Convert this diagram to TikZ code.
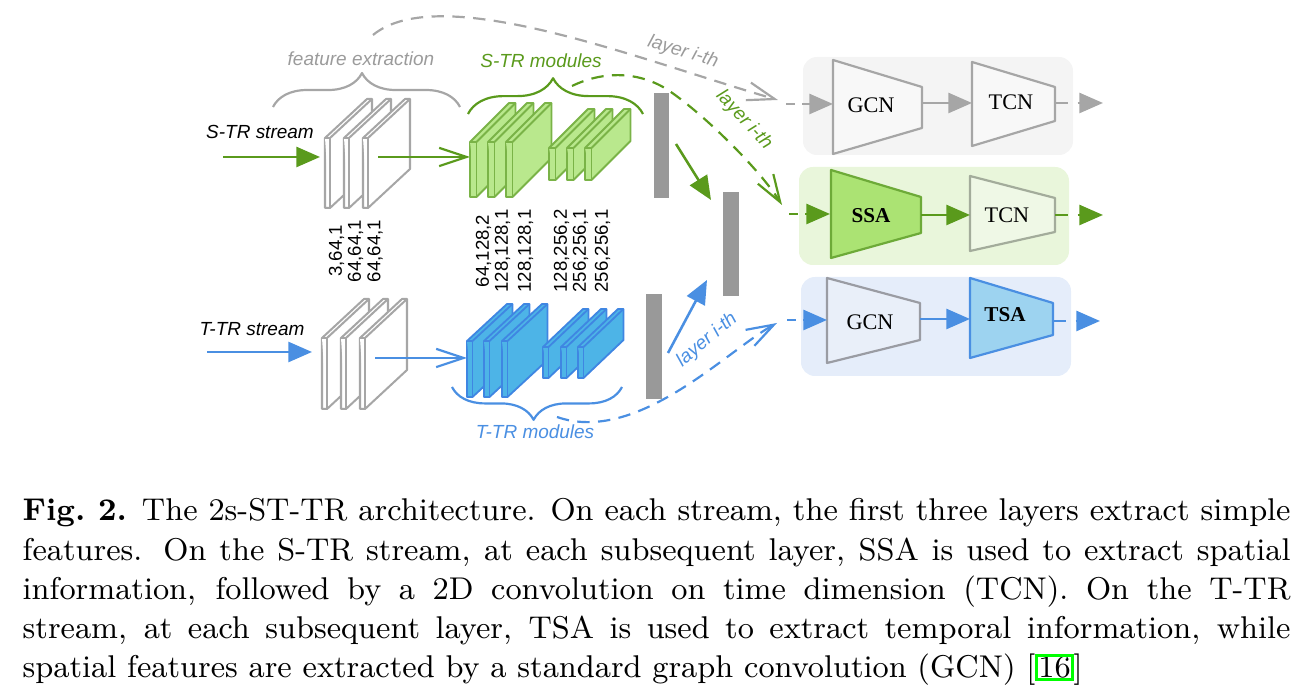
\documentclass[tikz,border=0pt]{standalone}
\usepackage{fontspec}
\newfontfamily\arialf{Liberation Sans}
\newfontfamily\timesf{Liberation Serif}
\usetikzlibrary{arrows.meta,decorations.pathreplacing}
\definecolor{lgrey}{HTML}{A6A6A6}
\definecolor{tgrey}{HTML}{9B9B9B}
\definecolor{bargrey}{HTML}{999999}
\definecolor{dgreen}{HTML}{5A9A1C}
\definecolor{slabgf}{HTML}{B9E88D}
\definecolor{slabgd}{HTML}{7AB347}
\definecolor{dblue}{HTML}{4A8FE2}
\definecolor{slabbf}{HTML}{4DB4E7}
\definecolor{slabbd}{HTML}{3F86E2}
\definecolor{boxgrey}{HTML}{F4F4F4}
\definecolor{boxgreen}{HTML}{E9F6DB}
\definecolor{boxblue}{HTML}{E5EDFA}
\definecolor{ssaf}{HTML}{ABE373}
\definecolor{ssad}{HTML}{6DAA38}
\definecolor{tsaf}{HTML}{9DD3F0}
\definecolor{tsad}{HTML}{4A8FE2}
\definecolor{gcnf}{HTML}{F8F8F8}
\definecolor{tcngf}{HTML}{EFF8E6}
\definecolor{tcngd}{HTML}{A3AC9B}
\definecolor{gcnbf}{HTML}{E9EFF9}
\definecolor{gcnbd}{HTML}{9A9CA3}
\definecolor{linkgreen}{HTML}{00FF00}
% slab: x, ytop, ybot, width, dx, dup, style
\newcommand{\mkslab}[7]{%
  \filldraw[#7] (#1,#2) -- (#1+#5,#2-#6) -- (#1+#4+#5,#2-#6) -- (#1+#4+#5,#3-#6) -- (#1+#4,#3) -- (#1,#3) -- cycle;
  \draw[#7] (#1,#2) -- (#1+#4,#2) -- (#1+#4,#3);
  \draw[#7] (#1+#4,#2) -- (#1+#4+#5,#2-#6);
}
% trapezium: xl, ylt, ylb, xr, yrt, yrb, style
\newcommand{\mktrap}[7]{%
  \filldraw[#7] (#1,#2) -- (#4,#5) -- (#4,#6) -- (#1,#3) -- cycle;
}
\begin{document}
\begin{tikzpicture}[x=0.274pt,y=-0.274pt, line join=round,
  sans/.style={font=\arialf\itshape\fontsize{5.2}{6}\selectfont, inner sep=0pt},
  num/.style={font=\arialf\fontsize{5.1}{4.15}\selectfont, align=center, rotate=90, inner sep=0pt},
  serif/.style={font=\timesf\fontsize{6.1}{7}\selectfont, inner sep=0pt},
  serifb/.style={font=\timesf\bfseries\fontsize{5.8}{7}\selectfont, inner sep=0pt},
  plane/.style={draw=lgrey, fill=white, line width=0.55pt},
  gslab/.style={draw=slabgd, fill=slabgf, line width=0.5pt},
  bslab/.style={draw=slabbd, fill=slabbf, line width=0.5pt},
  bar/.style={fill=bargrey, draw=none, inner sep=0pt, outer sep=0pt},
  tri/.style={-{Triangle[length=6.5pt,width=5.5pt]}, line width=0.7pt},
  barb/.style={-{Straight Barb[length=7.5pt,width=5pt]}, line width=0.6pt},
  ldash/.style={dash pattern=on 3.4pt off 2.3pt},
  sdash/.style={dash pattern=on 2.5pt off 1.9pt},
  brc/.style={decorate, line width=0.6pt},
  panel/.style={draw=none, rounded corners=3.8pt},
]
\useasboundingbox (0,0) rectangle (1295,686);

% ---------- right panels ----------
\fill[boxgrey, panel] (803,57) rectangle (1073,155);
\fill[boxgreen, panel] (799,167) rectangle (1069,265);
\fill[boxblue, panel] (801,277) rectangle (1071,376);

\mktrap{833}{60}{154}{922}{87}{128}{draw=lgrey, fill=gcnf, line width=0.6pt}
\mktrap{972}{62}{146}{1055}{87}{121}{draw=lgrey, fill=gcnf, line width=0.6pt}
\mktrap{831}{170}{258}{921}{197}{233}{draw=ssad, fill=ssaf, line width=0.6pt}
\mktrap{970}{176}{251}{1055}{198}{232}{draw=tcngd, fill=tcngf, line width=0.6pt}
\mktrap{827}{278}{363}{920}{303}{340}{draw=gcnbd, fill=gcnbf, line width=0.6pt}
\mktrap{970}{278}{358}{1053}{303}{335}{draw=tsad, fill=tsaf, line width=0.6pt}

\node[serif] (gcnA) at (871,105) {GCN};
\node[serif] (tcnA) at (1011,102) {TCN};
\node[serifb] (ssa) at (871,216) {SSA};
\node[serif] (tcnB) at (1007,215) {TCN};
\node[serif] (gcnC) at (870,322) {GCN};
\node[serifb] (tsa) at (1005,315) {TSA};

% anchor points of the blocks
\coordinate (gcnAin) at (833,104);  \coordinate (gcnAout) at (922,103);
\coordinate (tcnAin) at (972,103);  \coordinate (tcnAout) at (1055,103);
\coordinate (outA) at (1103,103);   \coordinate (inA) at (786,104);
\coordinate (ssain) at (830,214);   \coordinate (ssaout) at (921,215);
\coordinate (tcnBin) at (970,215);  \coordinate (tcnBout) at (1055,215);
\coordinate (outB) at (1103,215);   \coordinate (inB) at (789,214);
\coordinate (gcnCin) at (827,320);  \coordinate (gcnCout) at (920,319);
\coordinate (tsain) at (970,319);   \coordinate (tsaout) at (1053,321);
\coordinate (outC) at (1100,321);   \coordinate (inC) at (787,320);

\draw[tri, lgrey, sdash] (inA) -- (gcnAin);
\draw[tri, lgrey] (gcnAout) -- (tcnAin);
\draw[tri, lgrey, dash pattern=on 3.6pt off 2.6pt] (tcnAout) -- (outA);
\draw[tri, dgreen, sdash] (inB) -- (ssain);
\draw[tri, dgreen] (ssaout) -- (tcnBin);
\draw[tri, dgreen, dash pattern=on 3.6pt off 2.6pt] (tcnBout) -- (outB);
\draw[tri, dblue, sdash] (inC) -- (gcnCin);
\draw[tri, dblue] (gcnCout) -- (tsain);
\draw[tri, dblue, dash pattern=on 3.6pt off 2.6pt] (tsaout) -- (outC);

% ---------- bars ----------
\node[bar, minimum width=4.11pt, minimum height=28.77pt] (bar1) at (661.5,145.5) {};
\node[bar, minimum width=4.38pt, minimum height=28.5pt] (bar2) at (731,244) {};
\node[bar, minimum width=4.38pt, minimum height=28.77pt] (bar3) at (654,346.5) {};
\coordinate (b1s) at (676,144); \coordinate (b2g) at (711,200);
\coordinate (b3s) at (668,353); \coordinate (b2b) at (707,280);
\draw[tri, dgreen] (b1s) -- (b2g);
\draw[tri, dblue] (b3s) -- (b2b);

% ---------- streams: inputs ----------
\node[sans, text=black] (strs) at (260,132) {S-TR stream};
\node[sans, text=black] (ttrs) at (252,329) {T-TR stream};
\coordinate (sIn0) at (223,157); \coordinate (sIn1) at (320,157);
\coordinate (tIn0) at (207,352); \coordinate (tIn1) at (312,352);
\draw[tri, dgreen] (sIn0) -- (sIn1);
\draw[tri, dblue] (tIn0) -- (tIn1);

% ---------- feature extraction planes ----------
\mkslab{325}{138}{208}{5}{42}{39}{plane}
\mkslab{344}{138}{208}{5}{42}{39}{plane}
\mkslab{363}{138}{208}{5}{42}{39}{plane}
\mkslab{322}{338}{409}{5}{42}{39}{plane}
\mkslab{341}{338}{409}{5}{42}{39}{plane}
\mkslab{360}{338}{409}{5}{42}{39}{plane}

\coordinate (fS) at (378,157); \coordinate (mS) at (470,157);
\coordinate (fT) at (375,358); \coordinate (mT) at (467,358);
\draw[barb, dgreen] (fS) -- (mS);
\draw[barb, dblue] (fT) -- (mT);

% ---------- S-TR modules ----------
\mkslab{470}{142}{197}{6.5}{39}{39}{gslab}
\mkslab{488}{142}{197}{6.5}{39}{39}{gslab}
\mkslab{506}{142}{197}{6.5}{39}{39}{gslab}
\mkslab{549}{148}{180}{6.5}{39}{39}{gslab}
\mkslab{567}{148}{180}{6.5}{39}{39}{gslab}
\mkslab{585}{148}{180}{6.5}{39}{39}{gslab}

% ---------- T-TR modules ----------
\mkslab{467}{341}{397}{5.5}{40}{37}{bslab}
\mkslab{484}{341}{397}{5.5}{40}{37}{bslab}
\mkslab{502}{341}{397}{5.5}{40}{37}{bslab}
\mkslab{543}{347}{378}{5.5}{40}{38}{bslab}
\mkslab{561}{347}{378}{5.5}{40}{38}{bslab}
\mkslab{578}{347}{378}{5.5}{40}{38}{bslab}

% ---------- braces and labels ----------
\draw[brc, lgrey, decoration={brace, amplitude=9.3pt, aspect=0.476}] (273,107) -- (460,107);
\draw[brc, dgreen, decoration={brace, amplitude=9.8pt, aspect=0.486}] (468,114) -- (643,114);
\draw[brc, dblue, decoration={brace, amplitude=9pt, aspect=0.52}] (622,387) -- (452,387);
\node[sans, text=tgrey] (fe) at (361,59) {feature extraction};
\node[sans, text=dgreen] (stm) at (541,61) {S-TR modules};
\node[sans, text=dblue] (ttm) at (535,432) {T-TR modules};

% ---------- channel numbers ----------
\node[num] (n1) at (346,251) {3,64,1\\64,64,1};
\node[num] (n2) at (375,251) {64,64,1};
\node[num] (n3) at (493,251) {64,128,2\\128,128,1};
\node[num] (n4) at (525.5,251) {128,128,1};
\node[num] (n5) at (571,251) {128,256,2\\256,256,1};
\node[num] (n6) at (602.5,251) {256,256,1};

% ---------- layer i-th skip connections ----------
\coordinate (gc0) at (373,35); \coordinate (gc1) at (778,100);
\draw[barb, lgrey, ldash] (gc0) .. controls (440,-20) and (640,60) .. (gc1);
\coordinate (grc0) at (572,86); \coordinate (grc1) at (782,205);
\draw[barb, dgreen, ldash] (grc0) .. controls (605,70) and (640,72) .. (668,90)
      .. controls (705,115) and (760,170) .. (grc1);
\coordinate (bc0) at (557,417); \coordinate (bc1) at (777,323);
\draw[barb, dblue, ldash] (bc0) .. controls (637,445) and (727,350.5) .. (bc1);
\node[sans, text=tgrey, rotate=-17] (lA) at (683,52) {layer i-th};
\node[sans, text=dgreen, rotate=-47] (lB) at (744,120) {layer i-th};
\node[sans, text=dblue, rotate=40] (lC) at (707,340) {layer i-th};

% ---------- caption ----------
\node[anchor=north west, inner sep=0pt, text width=347.4pt, align=justify,
      font=\fontsize{8.62}{10.73}\selectfont] (cap) at (22,498)
 {\textbf{Fig.\ 2.} The 2s-ST-TR architecture. On each stream, the first three layers extract simple\linebreak
  features. On the S-TR stream, at each subsequent layer, SSA is used to extract spatial\linebreak
  information, followed by a 2D convolution on time dimension (TCN). On the T-TR\linebreak
  stream, at each subsequent layer, TSA is used to extract temporal information, while\linebreak
  spatial features are extracted by a standard graph convolution (GCN) [{\fboxrule=0.8pt\fboxsep=0pt\color{linkgreen}\fbox{\color{black}16}}]};
\end{tikzpicture}
\end{document}
